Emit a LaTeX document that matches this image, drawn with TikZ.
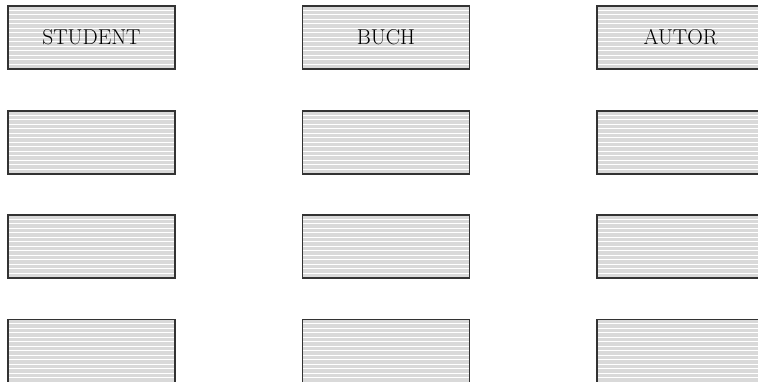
\documentclass[tikz,border=0pt]{standalone}
\usetikzlibrary{positioning}

\tikzset{
  entity/.style={draw=black!80, line width=1.3pt, fill=black!15,
    minimum width=167pt, minimum height=63pt, inner sep=0pt,
    font=\fontsize{21.5}{24}\selectfont,
    path picture={
      \foreach \k in {1,...,14}
        \draw[white, line width=0.9pt]
          ([yshift=-\k*4.5pt+0.5pt]path picture bounding box.north west) --
          ([yshift=-\k*4.5pt+0.5pt]path picture bounding box.north east);
    }},
}

\begin{document}
\begin{tikzpicture}[x=1pt, y=-1pt]
  \useasboundingbox (0,0) rectangle (758,381);
  % headings
  \node[entity] (student) at (91.5,37.5) {STUDENT};
  \node[entity] (buch) at (386,37.5) {BUCH};
  \node[entity] (autor) at (680.5,37.5) {AUTOR};
  % empty rows
  \node[entity] (student2) at (91.5,142.5) {};
  \node[entity] (buch2) at (386,142.5) {};
  \node[entity] (autor2) at (680.5,142.5) {};
  \node[entity] (student3) at (91.5,246.5) {};
  \node[entity] (buch3) at (386,246.5) {};
  \node[entity] (autor3) at (680.5,246.5) {};
  \node[entity] (student4) at (91.5,351) {};
  \node[entity] (buch4) at (386,351) {};
  \node[entity] (autor4) at (680.5,351) {};
\end{tikzpicture}
\end{document}
